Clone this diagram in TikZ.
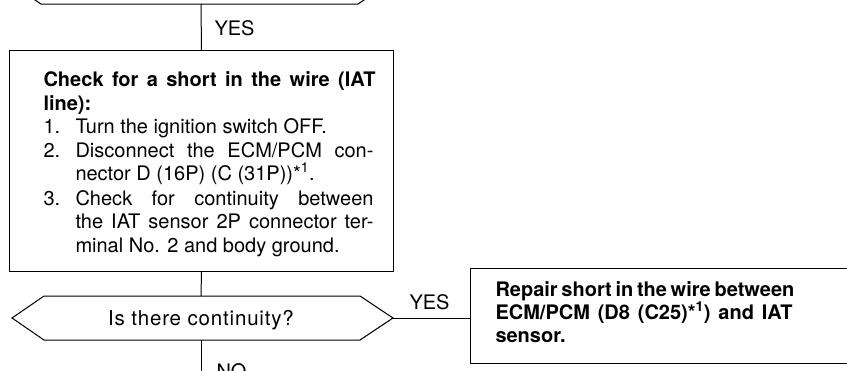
\documentclass[tikz,border=0pt]{standalone}
\usepackage{fontspec}
\setmainfont{TeX Gyre Heros}
\begin{document}
\begin{tikzpicture}[x=1pt,y=-1pt,line width=1pt,
  txt/.style={anchor=base west,inner sep=0pt,font=\fontsize{20}{23.6}\selectfont},
  btxt/.style={anchor=base west,inner sep=0pt,font=\fontsize{20}{23.6}\selectfont\bfseries},
  ctxt/.style={anchor=base,inner sep=0pt,font=\fontsize{20.5}{23.6}\selectfont\addfontfeature{LetterSpace=4}},
  boxst/.style={draw,inner sep=0pt,anchor=north west}]
\useasboundingbox (0,0) rectangle (847,370);
\clip (0,0) rectangle (847,370);
% previous decision (only its bottom is visible)
\coordinate (pbl) at (41,4);
\coordinate (pbr) at (358,4);
\coordinate (prevbot) at (201,4);
\draw (8,-18) -- (pbl) -- (pbr) -- (391,-18);
% box 1
\node[boxst,minimum width=384,minimum height=221] (box1) at (9,50) {};
\draw (prevbot) -- (box1.north);
\node[txt] (yes1) at (214,35) {YES};
\node[btxt] (t1) at (43,86) {\makebox[332pt][s]{Check for a short in the wire (IAT}};
\node[btxt] (t2) at (43,110) {line):};
\node[txt] (n1) at (43,133) {1.};
\node[txt] (l1) at (75,133) {Turn the ignition switch OFF.};
\node[txt] (n2) at (43,157) {2.};
\node[txt] (l2) at (75,157) {\makebox[298pt][s]{Disconnect the ECM/PCM con-}};
\node[txt] (l3) at (75,180) {nector D (16P) (C (31P))*\textsuperscript{1}.};
\node[txt] (n3) at (43,205) {3.};
\node[txt] (l4) at (75,205) {\makebox[298pt][s]{Check for continuity between}};
\node[txt] (l5) at (75,228) {\makebox[298pt][s]{the IAT sensor 2P connector ter-}};
\node[txt] (l6) at (75,252) {minal No. 2 and body ground.};
% decision
\coordinate (decl) at (12,318);
\coordinate (dectl) at (44,296);
\coordinate (dectr) at (360,296);
\coordinate (decright) at (393,318);
\coordinate (decbr) at (360,340);
\coordinate (decbl) at (44,340);
\coordinate (dectop) at (201,296);
\coordinate (decbot) at (201,340);
\draw (decl) -- (dectl) -- (dectr) -- (decright) -- (decbr) -- (decbl) -- cycle;
\node[ctxt] (dec) at (201,325) {Is there continuity?};
\draw (box1.south) -- (dectop);
% yes branch
\node[boxst,minimum width=430,minimum height=95] (box2) at (470,268) {};
\draw (decright) -- (box2.west |- decright);
\node[txt] (yes2) at (409,309) {YES};
\node[btxt] (r1) at (495,296) {\makebox[297pt][s]{Repair short in the wire between}};
\node[btxt] (r2) at (495,319) {\makebox[297pt][s]{ECM/PCM (D8 (C25)*\textsuperscript{1}) and IAT}};
\node[btxt] (r3) at (495,342) {sensor.};
% no branch
\coordinate (nobot) at (201,380);
\draw (decbot) -- (nobot);
\node[txt] (no) at (216,378) {NO};
\end{tikzpicture}
\end{document}
